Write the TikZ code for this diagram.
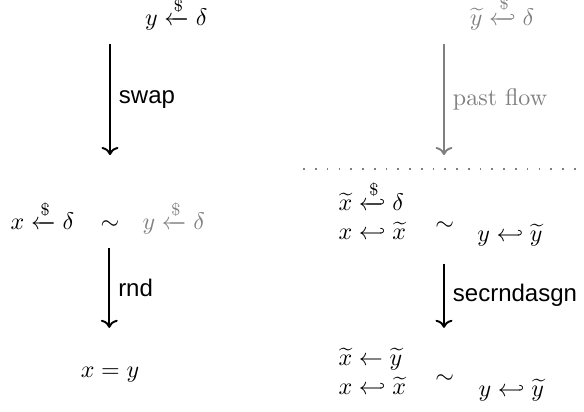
\documentclass[tikz,border=0pt]{standalone}
\usepackage{amsmath,amssymb}
\usepackage{mathtools}
\usepackage{xcolor}
\usepackage{fontspec}
\setsansfont{Liberation Sans}
\usepackage{tikz}
\usetikzlibrary{arrows.meta,positioning}

\begin{document}
\begin{tikzpicture}[
  term/.style={inner sep=0pt},
  flowarrow/.style={->, thick},
  pastarrow/.style={->, thick, gray},
  steplabel/.style={font=\sffamily},
  sepline/.style={gray, line width=0.7pt, dash pattern=on 0.7pt off 4.2pt}
]
\useasboundingbox (0,0) rectangle (8.55,6.03);

% Left column
\node[term, anchor=base] (ltop) at (2.58,5.66) {$y \xleftarrow{\$} \delta$};
\coordinate (la1) at (1.61,5.39);
\coordinate (la2) at (1.61,3.76);
\draw[flowarrow] (la1) -- (la2) node[midway, right, steplabel] (lswap) {swap};

\node[term, anchor=base west] (lmx) at (0.15,2.67) {$x \xleftarrow{\$} \delta$};
\node[term, anchor=base] (lmsim) at (1.61,2.67) {$\sim$};
\node[term, anchor=base west, gray] (lmy) at (2.08,2.67) {$y \xleftarrow{\$} \delta$};

\coordinate (lb1) at (1.60,2.40);
\coordinate (lb2) at (1.60,1.23);
\draw[flowarrow] (lb1) -- (lb2) node[midway, right, steplabel] (lrnd) {rnd};

\node[term, anchor=base] (lbot) at (1.61,0.50) {$x = y$};

% Right column
\node[term, anchor=base, gray] (rtop) at (7.35,5.66) {$\widetilde{y} \xhookleftarrow{\$} \delta$};
\coordinate (ra1) at (6.50,5.39);
\coordinate (ra2) at (6.50,3.76);
\draw[pastarrow] (ra1) -- (ra2) node[midway, right] (rpast) {past flow};

\coordinate (dl) at (4.44,3.56);
\coordinate (dr) at (8.55,3.56);
\draw[sepline] (dl) -- (dr);

\node[term, anchor=base west, align=left] (rmid) at (4.95,2.52)
  {$\widetilde{x} \xhookleftarrow{\$} \delta$\\ $x \hookleftarrow \widetilde{x}$};
\node[term] (rmsim) at (6.51,2.72) {$\sim$};
\node[term, anchor=base west] (rmy) at (6.98,2.49) {$y \hookleftarrow \widetilde{y}$};

\coordinate (rb1) at (6.50,2.17);
\coordinate (rb2) at (6.50,1.23);
\draw[flowarrow] (rb1) -- (rb2) node[midway, right, steplabel] (rsec) {secrndasgn};

\node[term, anchor=base west, align=left] (rbot) at (4.95,0.26)
  {$\widetilde{x} \leftarrow \widetilde{y}$\\ $x \hookleftarrow \widetilde{x}$};
\node[term] (rbsim) at (6.51,0.48) {$\sim$};
\node[term, anchor=base west] (rby) at (7.00,0.22) {$y \hookleftarrow \widetilde{y}$};

\end{tikzpicture}
\end{document}
